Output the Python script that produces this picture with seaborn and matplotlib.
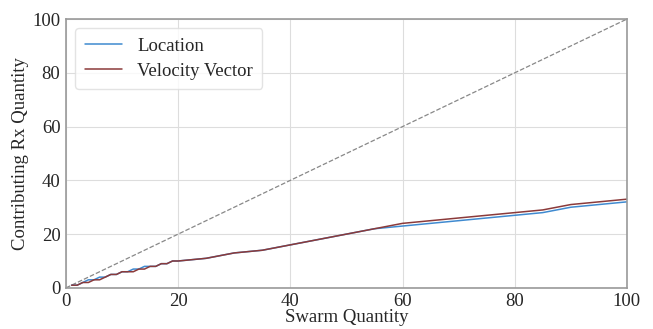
import matplotlib
matplotlib.use("Agg")
import matplotlib.pyplot as plt
import seaborn as sns
import pandas as pd

swarm = list(range(1, 21)) + list(range(25, 101, 5))
location = [1, 1, 2, 3, 3, 4, 4, 5, 5, 6, 6, 7, 7, 8, 8, 8, 9, 9, 10, 10,
            11, 13, 14, 16, 18, 20, 22, 23, 24, 25, 26, 27, 28, 30, 31, 32]
velocity = [1, 1, 2, 2, 3, 3, 4, 5, 5, 6, 6, 6, 7, 7, 8, 8, 9, 9, 10, 10,
            11, 13, 14, 16, 18, 20, 22, 24, 25, 26, 27, 28, 29, 31, 32, 33]
diag = [0, 100]

df = pd.DataFrame({"Swarm": swarm * 2,
                   "Value": location + velocity,
                   "Series": ["Location"] * len(swarm) + ["Velocity Vector"] * len(swarm)})

sns.set_theme(style="whitegrid")
plt.rcParams['font.family'] = ['Liberation Serif', 'DejaVu Serif']

fig = plt.figure(figsize=(6.53, 3.29), dpi=100)
ax = fig.add_axes([0.101, 0.125, 0.859, 0.817])

ax.plot(diag, diag, linestyle='--', color='#888888', linewidth=0.9)
sns.lineplot(data=df, x="Swarm", y="Value", hue="Series",
             palette={"Location": "#3f8ad0", "Velocity Vector": "#8b3a3a"},
             linewidth=1.1, ax=ax)

ax.set_xlim(0, 100)
ax.set_ylim(0, 100)
ax.set_xticks([0, 20, 40, 60, 80, 100])
ax.set_yticks([0, 20, 40, 60, 80, 100])
ax.tick_params(labelsize=13.5, pad=1, length=3, color='#999999')
ax.set_xlabel("Swarm Quantity", fontsize=13.5, labelpad=-1)
ax.set_ylabel("Contributing Rx Quantity", fontsize=13.5, labelpad=2)
for s in ax.spines.values():
    s.set_color('#999999')
    s.set_linewidth(1.2)
ax.grid(color='#dddddd', linewidth=0.8)

leg = ax.legend(loc='upper left', fontsize=13.5, frameon=True, handlelength=2.0,
                borderpad=0.5, labelspacing=0.4)
leg.get_frame().set_edgecolor('#dddddd')

fig.savefig("out.png", dpi=100)
